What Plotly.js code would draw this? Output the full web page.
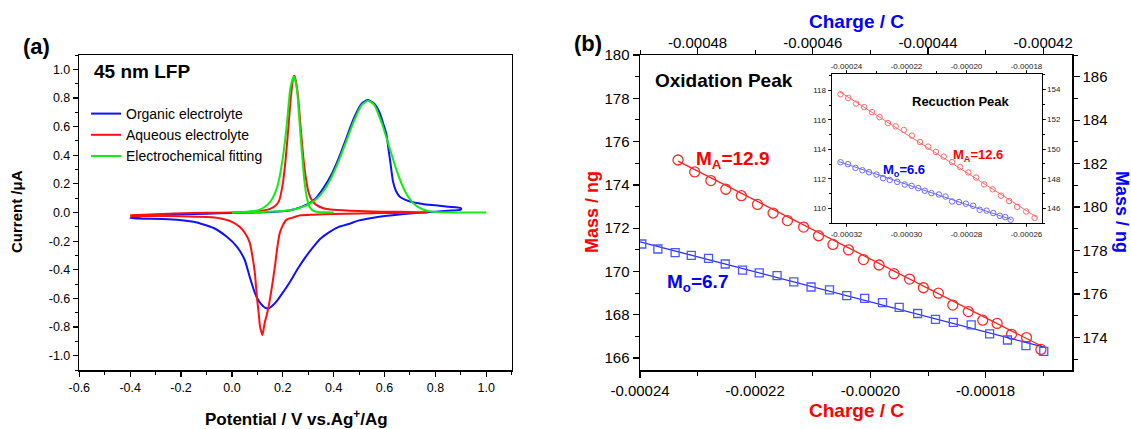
<!DOCTYPE html>
<html><head><meta charset="utf-8">
<script src="https://cdn.plot.ly/plotly-3.0.1.min.js"></script>
<style>html,body{margin:0;padding:0;background:#fff}#chart{width:1131px;height:429px}</style>
</head><body><div id="chart"></div>
<script>
// ---------- Panel (a): cyclic voltammograms ----------
const organicFwdX = [-0.4,-0.35,-0.3,-0.2,-0.1,0.0,0.1,0.2,0.25,0.3,0.33,0.36,0.39,0.42,0.45,0.48,0.51,0.535,0.56,0.58,0.595,0.607,0.615,0.623,0.633,0.645,0.66,0.68,0.70,0.75,0.8,0.85,0.9];
const organicFwdY = [-0.04,-0.025,-0.018,-0.012,-0.008,-0.004,0.0,0.008,0.025,0.06,0.10,0.17,0.26,0.38,0.52,0.66,0.76,0.785,0.76,0.70,0.62,0.55,0.45,0.35,0.22,0.15,0.11,0.09,0.077,0.06,0.05,0.04,0.03];
const organicRevX = [0.9,0.85,0.8,0.75,0.7,0.65,0.6,0.55,0.5,0.46,0.42,0.38,0.35,0.32,0.29,0.26,0.23,0.2,0.18,0.16,0.145,0.13,0.115,0.1,0.09,0.07,0.05,0.02,-0.02,-0.07,-0.15,-0.25,-0.4];
const organicRevY = [0.02,0.012,0.006,0.0,-0.007,-0.015,-0.025,-0.038,-0.055,-0.08,-0.1,-0.14,-0.18,-0.24,-0.31,-0.39,-0.48,-0.56,-0.61,-0.65,-0.67,-0.665,-0.64,-0.6,-0.56,-0.45,-0.33,-0.24,-0.17,-0.11,-0.065,-0.047,-0.04];

const aqueousFwdX = [-0.4,-0.3,-0.2,-0.1,0.0,0.05,0.1,0.13,0.15,0.17,0.185,0.2,0.21,0.22,0.23,0.24,0.245,0.25,0.26,0.27,0.28,0.29,0.3,0.31,0.33,0.36,0.4,0.5,0.6,0.7,0.77];
const aqueousFwdY = [-0.02,-0.012,-0.006,-0.002,0.0,0.003,0.008,0.015,0.025,0.045,0.08,0.2,0.35,0.55,0.77,0.93,0.955,0.93,0.81,0.6,0.4,0.25,0.15,0.1,0.055,0.03,0.019,0.01,0.006,0.003,0.0];
const aqueousRevX = [0.77,0.7,0.6,0.5,0.4,0.32,0.27,0.24,0.215,0.2,0.188,0.178,0.169,0.159,0.149,0.139,0.129,0.12,0.115,0.11,0.105,0.1,0.095,0.09,0.08,0.07,0.05,0.03,0.0,-0.05,-0.1,-0.2,-0.3,-0.4];
const aqueousRevY = [0.0,-0.002,-0.004,-0.007,-0.01,-0.015,-0.02,-0.035,-0.05,-0.09,-0.144,-0.25,-0.377,-0.5,-0.61,-0.7,-0.77,-0.855,-0.83,-0.79,-0.7,-0.62,-0.52,-0.42,-0.3,-0.21,-0.14,-0.1,-0.065,-0.04,-0.032,-0.026,-0.025,-0.028];

const fit1X = [0.0,0.05,0.08,0.11,0.14,0.16,0.18,0.2,0.215,0.23,0.243,0.255,0.265,0.275,0.285,0.295,0.305,0.32,0.34,0.37,0.4];
const fit1Y = [0.0,0.003,0.008,0.02,0.055,0.1,0.19,0.38,0.6,0.87,0.95,0.87,0.65,0.42,0.22,0.1,0.04,0.012,0.004,0.001,0.0];
const fit2X = [0.0,0.1,0.2,0.25,0.3,0.33,0.36,0.39,0.42,0.45,0.48,0.51,0.535,0.56,0.59,0.62,0.65,0.68,0.71,0.74,0.77,0.8,0.9,1.0];
const fit2Y = [0.0,0.002,0.01,0.025,0.055,0.09,0.15,0.24,0.36,0.5,0.64,0.75,0.78,0.75,0.62,0.45,0.28,0.15,0.07,0.03,0.01,0.003,0.0,0.0];

const aXTicks = [-0.6,-0.4,-0.2,0.0,0.2,0.4,0.6,0.8,1.0];
const aXLabels = ["-0.6","-0.4","-0.2","0.0","0.2","0.4","0.6","0.8","1.0"];
const aYTicks = [-1.0,-0.8,-0.6,-0.4,-0.2,0.0,0.2,0.4,0.6,0.8,1.0];
const aYLabels = ["-1.0","-0.8","-0.6","-0.4","-0.2","0.0","0.2","0.4","0.6","0.8","1.0"];

// ---------- Panel (b): oxidation peak ----------
const oxChargeA = [-0.0002334,-0.0002305,-0.0002277,-0.0002251,-0.0002224,-0.0002196,-0.0002169,-0.0002144,-0.0002116,-0.0002090,-0.0002065,-0.0002038,-0.0002012,-0.0001985,-0.0001959,-0.0001932,-0.0001908,-0.0001882,-0.0001857,-0.0001830,-0.0001805,-0.0001780,-0.0001755,-0.0001729,-0.0001704];
const oxMassA = [175.15,174.6,174.2,173.8,173.5,173.1,172.7,172.35,172.05,171.65,171.25,171.0,170.55,170.3,169.9,169.65,169.25,169.0,168.45,168.15,167.75,167.6,167.1,166.95,166.4];
const oxFitAX = [-0.0002334,-0.0001699];
const oxFitAY = [175.1,166.5];

const oxChargeO = [-0.0004897,-0.0004869,-0.0004839,-0.0004811,-0.0004781,-0.0004752,-0.0004722,-0.0004693,-0.0004662,-0.0004633,-0.0004603,-0.0004571,-0.0004541,-0.0004510,-0.0004479,-0.0004450,-0.0004418,-0.0004387,-0.0004356,-0.0004325,-0.0004293,-0.0004262,-0.0004230,-0.0004199];
const oxMassO = [178.3,178.07,177.9,177.78,177.64,177.38,177.1,176.97,176.84,176.56,176.32,176.19,175.92,175.8,175.6,175.38,175.1,174.83,174.69,174.58,174.16,173.88,173.62,173.36];
const oxFitOX = [-0.00049,-0.0004197];
const oxFitOY = [178.4,173.54];

const bBotTicks = [-0.00024,-0.00022,-0.00020,-0.00018];
const bBotLabels = ["-0.00024","-0.00022","-0.00020","-0.00018"];
const bTopTicks = [-0.00048,-0.00046,-0.00044,-0.00042];
const bTopLabels = ["-0.00048","-0.00046","-0.00044","-0.00042"];
const bLeftTicks = [166,168,170,172,174,176,178,180];
const bRightTicks = [174,176,178,180,182,184,186];

// ---------- Inset: reduction peak ----------
const redChargeA = [-0.0002420,-0.0002394,-0.0002368,-0.0002341,-0.0002315,-0.0002290,-0.0002262,-0.0002236,-0.0002209,-0.0002182,-0.0002155,-0.0002128,-0.0002102,-0.0002076,-0.0002048,-0.0002021,-0.0001994,-0.0001968,-0.0001941,-0.0001913,-0.0001885,-0.0001858,-0.0001831,-0.0001801,-0.0001773];
const redMassA = [117.73,117.48,117.1,116.86,116.52,116.18,115.78,115.56,115.31,114.93,114.5,114.19,113.83,113.51,113.14,112.8,112.44,112.1,111.63,111.3,110.87,110.51,110.11,109.8,109.37];
const redFitAX = [-0.0002422,-0.0001765];
const redFitAY = [117.89,109.4];

const redChargeO = [-0.0003220,-0.0003195,-0.0003170,-0.0003147,-0.0003125,-0.0003100,-0.0003078,-0.0003056,-0.0003031,-0.0003006,-0.0002983,-0.0002961,-0.0002939,-0.0002917,-0.0002892,-0.0002870,-0.0002848,-0.0002825,-0.0002802,-0.0002778,-0.0002756,-0.0002733,-0.0002711,-0.0002689,-0.0002671,-0.0002653];
const redMassO = [149.11,148.98,148.73,148.57,148.44,148.28,148.04,147.92,147.79,147.61,147.52,147.37,147.19,147.03,146.94,146.8,146.47,146.43,146.32,146.18,145.91,145.85,145.69,145.51,145.42,145.24];
const redFitOX = [-0.0003225,-0.0002650];
const redFitOY = [149.15,145.25];

const iBotTicks = [-0.00032,-0.00030,-0.00028,-0.00026];
const iBotLabels = ["-0.00032","-0.00030","-0.00028","-0.00026"];
const iTopTicks = [-0.00024,-0.00022,-0.00020,-0.00018];
const iTopLabels = ["-0.00024","-0.00022","-0.00020","-0.00018"];
const iLeftTicks = [110,112,114,116,118];
const iRightTicks = [146,148,150,152,154];

// ---------- helpers ----------
const W = 1131, H = 429;
const fx = p => p / W, fy = p => 1 - p / H;
const FONT = '"Liberation Sans", Arial, Helvetica, sans-serif';
const RED = '#ff0000', BLUE = '#0000ff';

function ax(o) {
  return Object.assign({
    showgrid: false, zeroline: false, showline: true, linecolor: '#000', linewidth: 1.5,
    ticks: 'outside', ticklen: 5, tickwidth: 1.2, tickcolor: '#000',
    tickfont: {family: FONT, size: 12, color: '#000'},
    automargin: false, fixedrange: true, tickmode: 'array'
  }, o);
}
function minor(d, len) { return {tickmode: 'linear', tick0: 0, dtick: d, ticks: 'outside', ticklen: len, tickwidth: 1, tickcolor: '#000'}; }

const traces = [
  {x: organicFwdX.concat(organicRevX), y: organicFwdY.concat(organicRevY), type: 'scatter', mode: 'lines',
   name: 'Organic electrolyte', line: {color: '#1010ff', width: 2, shape: 'spline', smoothing: 0.6}, xaxis: 'x', yaxis: 'y'},
  {x: aqueousFwdX.concat(aqueousRevX), y: aqueousFwdY.concat(aqueousRevY), type: 'scatter', mode: 'lines',
   name: 'Aqueous electrolyte', line: {color: '#ff1010', width: 2, shape: 'spline', smoothing: 0.6}, xaxis: 'x', yaxis: 'y'},
  {x: fit1X, y: fit1Y, type: 'scatter', mode: 'lines', name: 'Electrochemical fitting', legendgroup: 'fit',
   line: {color: '#10ee10', width: 2, shape: 'spline', smoothing: 0.6}, xaxis: 'x', yaxis: 'y'},
  {x: fit2X, y: fit2Y, type: 'scatter', mode: 'lines', name: 'Electrochemical fitting', legendgroup: 'fit', showlegend: false,
   line: {color: '#10ee10', width: 2, shape: 'spline', smoothing: 0.6}, xaxis: 'x', yaxis: 'y'},

  // panel (b)
  {x: oxFitAX, y: oxFitAY, type: 'scatter', mode: 'lines', showlegend: false, line: {color: '#ff2020', width: 1.3}, xaxis: 'x2', yaxis: 'y2'},
  {x: oxChargeA, y: oxMassA, type: 'scatter', mode: 'markers', showlegend: false,
   marker: {symbol: 'circle-open', size: 10, color: '#ff2a2a', line: {width: 1.3}}, xaxis: 'x2', yaxis: 'y2'},
  {x: oxFitOX, y: oxFitOY, type: 'scatter', mode: 'lines', showlegend: false, line: {color: '#2b2bff', width: 1.3}, xaxis: 'x3', yaxis: 'y3'},
  {x: oxChargeO, y: oxMassO, type: 'scatter', mode: 'markers', showlegend: false,
   marker: {symbol: 'square-open', size: 8, color: '#4a58ff', line: {width: 1.3}}, xaxis: 'x3', yaxis: 'y3'},

  // inset
  {x: redFitAX, y: redFitAY, type: 'scatter', mode: 'lines', showlegend: false, line: {color: '#ff6a6a', width: 1}, xaxis: 'x5', yaxis: 'y4'},
  {x: redChargeA, y: redMassA, type: 'scatter', mode: 'markers', showlegend: false,
   marker: {symbol: 'circle-open', size: 5.5, color: '#ff6a6a', line: {width: 1}}, xaxis: 'x5', yaxis: 'y4'},
  {x: redFitOX, y: redFitOY, type: 'scatter', mode: 'lines', showlegend: false, line: {color: '#6a6aff', width: 1}, xaxis: 'x4', yaxis: 'y5'},
  {x: redChargeO, y: redMassO, type: 'scatter', mode: 'markers', showlegend: false,
   marker: {symbol: 'circle-open', size: 5.5, color: '#6a6aff', line: {width: 1}}, xaxis: 'x4', yaxis: 'y5'}
];

const bX = [fx(640), fx(1072)], bY = [fy(370), fy(55)];
const iX = [fx(831.5), fx(1041.5)], iY = [fy(223.3), fy(74)];
const tf15 = {family: FONT, size: 15, color: '#000'};
const tf8 = {family: FONT, size: 8, color: '#222'};

const layout = {
  width: W, height: H,
  margin: {l: 0, r: 0, t: 0, b: 0, pad: 0},
  paper_bgcolor: '#fff', plot_bgcolor: 'rgba(0,0,0,0)',
  showlegend: true,
  legend: {x: fx(86), y: fy(98), xanchor: 'left', yanchor: 'top', bgcolor: 'rgba(0,0,0,0)',
           font: {family: FONT, size: 14, color: '#000'}, tracegroupgap: 0},
  xaxis: ax({domain: [fx(79.3), fx(511.7)], range: [-0.6, 1.1], anchor: 'y', tickvals: aXTicks, ticktext: aXLabels,
             mirror: true, minor: minor(0.1, 3), tickfont: {family: FONT, size: 12.5, color: '#000'}}),
  yaxis: ax({domain: [fy(370), fy(55)], range: [-1.1, 1.1], anchor: 'x', tickvals: aYTicks, ticktext: aYLabels,
             mirror: true, minor: minor(0.1, 3), tickfont: {family: FONT, size: 12.5, color: '#000'}}),

  xaxis2: ax({domain: bX, range: [-0.00024, -0.000165], anchor: 'y2', tickvals: bBotTicks, ticktext: bBotLabels,
              tickfont: tf15, ticklen: 6, minor: minor(0.00001, 4)}),
  yaxis2: ax({domain: bY, range: [165.45, 180], anchor: 'x2', tickvals: bLeftTicks, tickfont: tf15, ticklen: 6, minor: minor(1, 4)}),
  xaxis3: ax({domain: bX, range: [-0.00049, -0.000415], anchor: 'y3', overlaying: 'x2', side: 'top', tickvals: bTopTicks,
              ticktext: bTopLabels, tickfont: tf15, ticklen: 6, ticklabelstandoff: -6, minor: minor(0.00001, 4)}),
  yaxis3: ax({domain: bY, range: [172.5, 187], anchor: 'x3', overlaying: 'y2', side: 'right', tickvals: bRightTicks,
              tickfont: tf15, ticklen: 6, minor: minor(1, 4)}),

  xaxis4: ax({domain: iX, range: [-0.000325, -0.000255], anchor: 'y4', tickvals: iBotTicks, ticktext: iBotLabels,
              tickfont: tf8, ticklen: 3, linewidth: 1, tickwidth: 0.8, minor: minor(0.00001, 2)}),
  yaxis4: ax({domain: iY, range: [109, 119.1], anchor: 'x4', tickvals: iLeftTicks, tickfont: tf8, ticklen: 3,
              linewidth: 1, tickwidth: 0.8, minor: minor(1, 2)}),
  xaxis5: ax({domain: iX, range: [-0.000245, -0.000175], anchor: 'y5', overlaying: 'x4', side: 'top', tickvals: iTopTicks,
              ticktext: iTopLabels, tickfont: tf8, ticklen: 3, ticklabelstandoff: -2, linewidth: 1, tickwidth: 0.8, minor: minor(0.00001, 2)}),
  yaxis5: ax({domain: iY, range: [145, 155.05], anchor: 'x5', overlaying: 'y4', side: 'right', tickvals: iRightTicks,
              tickfont: tf8, ticklen: 3, linewidth: 1, tickwidth: 0.8, minor: minor(1, 2)}),

  shapes: [
    {type: 'rect', xref: 'paper', yref: 'paper', x0: iX[0], x1: iX[1], y0: iY[0], y1: iY[1],
     fillcolor: '#fff', line: {width: 0}, layer: 'below'}
  ],

  annotations: [
    {text: '<b>(a)</b>', x: fx(36), y: fy(46), font: {family: FONT, size: 22, color: '#000'}},
    {text: '<b>(b)</b>', x: fx(588), y: fy(43), font: {family: FONT, size: 22, color: '#000'}},
    {text: '<b>45 nm LFP</b>', x: fx(92), y: fy(71), xanchor: 'left', font: {family: FONT, size: 19, color: '#000'}},
    {text: '<b>Current /μA</b>', x: fx(17), y: fy(212), textangle: -90, font: {family: FONT, size: 15, color: '#000'}},
    {text: '<b>Potential / V vs.Ag<sup>+</sup>/Ag</b>', x: fx(296), y: fy(418), font: {family: FONT, size: 17, color: '#000'}},

    {text: '<b>Oxidation Peak</b>', x: fx(653), y: fy(80), xanchor: 'left', font: {family: FONT, size: 19, color: '#000'}},
    {text: '<b>M<sub>A</sub>=12.9</b>', x: fx(694), y: fy(160), xanchor: 'left', font: {family: FONT, size: 19, color: RED}},
    {text: '<b>M<sub>o</sub>=6.7</b>', x: fx(665), y: fy(283), xanchor: 'left', font: {family: FONT, size: 19, color: BLUE}},
    {text: '<b>Charge / C</b>', x: fx(856), y: fy(21), font: {family: FONT, size: 19, color: BLUE}},
    {text: '<b>Charge / C</b>', x: fx(856), y: fy(410), font: {family: FONT, size: 19, color: RED}},
    {text: '<b>Mass / ng</b>', x: fx(592), y: fy(212), textangle: -90, font: {family: FONT, size: 18, color: RED}},
    {text: '<b>Mass / ng</b>', x: fx(1122), y: fy(212), textangle: 90, font: {family: FONT, size: 18, color: BLUE}},

    {text: '<b>Recuction Peak</b>', x: fx(961), y: fy(102), font: {family: FONT, size: 13, color: '#000'}},
    {text: '<b>M<sub>A</sub>=12.6</b>', x: fx(951), y: fy(155), xanchor: 'left', font: {family: FONT, size: 13, color: RED}},
    {text: '<b>M<sub>o</sub>=6.6</b>', x: fx(881), y: fy(170), xanchor: 'left', font: {family: FONT, size: 13, color: BLUE}}
  ].map(a => Object.assign({xref: 'paper', yref: 'paper', showarrow: false, xanchor: 'center', yanchor: 'middle'}, a))
};

Plotly.newPlot('chart', traces, layout, {staticPlot: true, displayModeBar: false});
</script></body></html>
